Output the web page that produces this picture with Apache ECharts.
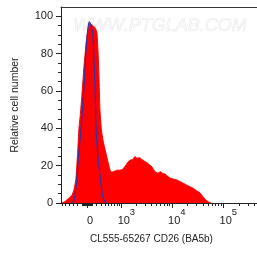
<!DOCTYPE html>
<html><head><meta charset="utf-8">
<script src="https://cdn.jsdelivr.net/npm/echarts@6/dist/echarts.min.js"></script>
<style>html,body{margin:0;padding:0;background:#fff}#c{width:257px;height:253px}</style>
</head><body><div id="c"></div>
<script>
// Biexponential display: position = asinh(value / BIEX_W)
const BIEX_W = 450;
const X_MIN = -1.16, X_MAX = 7.6;

// Red histogram (CL555-65267 CD26) : positions on display scale, relative counts
const redPos = [-1.118,-0.983,-0.805,-0.671,-0.581,-0.492,-0.416,-0.358,-0.291,-0.224,-0.134,-0.045,0.022,0.134,0.268,0.380,0.447,0.492,0.536,0.581,0.648,0.715,0.849,0.939,1.006,1.073,1.162,1.252,1.341,1.475,1.609,1.743,1.833,1.945,2.056,2.146,2.235,2.347,2.459,2.548,2.682,2.816,2.906,2.995,3.062,3.174,3.286,3.375,3.487,3.599,3.710,3.867,4.023,4.157,4.291,4.448,4.604,4.761,4.917,5.051,5.186,5.297,5.409,5.543];
const redVal = [0,0.8,2.7,4.3,7,13,27,40,48,58,73,84.5,91,96.3,95,93.5,91,82,68,50,39,33.7,26.7,22,18.7,16.6,16.6,17.1,17.6,17.6,18.2,20.3,22,23,23.5,24.9,24,24.3,23.3,22.5,21.6,20.3,19.3,17.6,16.6,16,16.8,16,15.5,14.4,13.4,12.8,12.3,11.5,10.7,9.6,8.7,7.8,6.4,5.5,3.4,1.9,0.7,0];

// Blue isotype control line
const bluePos = [-0.671,-0.581,-0.514,-0.447,-0.380,-0.291,-0.201,-0.112,-0.045,0.022,0.103,0.179,0.255,0.326,0.371,0.402,0.456,0.514,0.581,0.648,0.715,0.805,0.894];
const blueVal = [0,1.5,6,14,25,36,50,66,82,91,97,95,91,73,56,42,30,22,15,8,3,0.8,0];

// Axis ticks
const xMajorTicks = [0, 1000, 10000, 100000];
const xMajorLabels = ['0', '10^3', '10^4', '10^5'];
const xMinorTicks = [-600,-500,-400,-300,-200,-100,-90,-80,-70,-60,-50,-40,-30,-20,-10,
  10,20,30,40,50,60,70,80,90,100,200,300,400,500,600,700,800,900,
  2000,3000,4000,5000,6000,7000,8000,9000,
  20000,30000,40000,50000,60000,70000,80000,90000,
  200000,300000,400000];
const yMajorTicks = [0,20,40,60,80,100];
const yMinorTicks = [5,10,15,25,30,35,45,50,55,65,70,75,85,90,95];

const xTitle = 'CL555-65267 CD26 (BA5b)';
const yTitle = 'Relative cell number';
const watermark = 'WWW.PTGLAB.COM';

const biex = v => Math.asinh(v / BIEX_W);
const AX = '#222';
const FONT = 'Liberation Sans';

const chart = echarts.init(document.getElementById('c'), null, {renderer: 'canvas'});
chart.setOption({
  animation: false,
  backgroundColor: '#fff',
  textStyle: {fontFamily: FONT},
  grid: {left: 61, right: 0, top: 7, bottom: 50, containLabel: false},
  graphic: [{
    type: 'text', left: 73, top: 17, z: 0, silent: true,
    style: {text: watermark, font: 'italic 18px "Liberation Sans"', fill: 'rgba(255,255,255,0)', stroke: '#ebebeb', lineWidth: 0.7}
  }],
  xAxis: [
    {
      type: 'value', min: X_MIN, max: X_MAX, position: 'bottom', offset: 0,
      axisLine: {show: true, onZero: false, lineStyle: {color: AX, width: 1}},
      axisTick: {show: true, length: 5, inside: false, customValues: xMajorTicks.map(biex), lineStyle: {color: AX}},
      axisLabel: {
        show: true, margin: 4, color: AX, customValues: xMajorTicks.map(biex),
        formatter: function (val) {
          let i = xMajorTicks.findIndex(v => Math.abs(biex(v) - val) < 1e-6);
          if (i < 0) return '';
          const s = xMajorLabels[i];
          if (s.indexOf('^') < 0) return '{z|' + s + '}';
          const p = s.split('^');
          return '{b|' + p[0] + '}{s|' + p[1] + '}';
        },
        rich: {
          z: {fontSize: 11, lineHeight: 19, verticalAlign: 'bottom', padding: [0, 0, 0, 6], color: AX, fontFamily: FONT},
          b: {fontSize: 11, lineHeight: 19, verticalAlign: 'bottom', padding: [0, 0, 0, 10], color: AX, fontFamily: FONT},
          s: {fontSize: 9.5, lineHeight: 9, verticalAlign: 'top', color: AX, fontFamily: FONT}
        }
      },
      splitLine: {show: false},
      name: xTitle, nameLocation: 'middle', nameGap: 31,
      nameTextStyle: {fontSize: 10, color: AX, fontFamily: FONT, padding: [0, 15, 0, 0]}
    },
    {
      type: 'value', min: X_MIN, max: X_MAX, position: 'bottom', offset: 0,
      axisLine: {show: false, onZero: false},
      axisTick: {show: true, length: 3, inside: false, customValues: xMinorTicks.map(biex), lineStyle: {color: AX}},
      axisLabel: {show: false},
      splitLine: {show: false}
    },
    {
      type: 'value', min: X_MIN, max: X_MAX, position: 'top', offset: 0,
      axisLine: {show: true, onZero: false, lineStyle: {color: '#333', width: 1}},
      axisTick: {show: false}, axisLabel: {show: false}, splitLine: {show: false}
    }
  ],
  yAxis: [
    {
      type: 'value', min: 0, max: 105, position: 'left', offset: 0,
      axisLine: {show: true, onZero: false, lineStyle: {color: AX, width: 1}},
      axisTick: {show: true, length: 5, inside: false, customValues: yMajorTicks, lineStyle: {color: AX}},
      axisLabel: {show: true, margin: 8, fontSize: 11, color: AX, customValues: yMajorTicks, fontFamily: FONT},
      splitLine: {show: false},
      name: yTitle, nameLocation: 'middle', nameGap: 40,
      nameTextStyle: {fontSize: 10.5, color: AX, fontFamily: FONT}
    },
    {
      type: 'value', min: 0, max: 105, position: 'left', offset: 0,
      axisLine: {show: false, onZero: false},
      axisTick: {show: true, length: 3, inside: false, customValues: yMinorTicks, lineStyle: {color: AX}},
      axisLabel: {show: false}, splitLine: {show: false}
    }
  ],
  series: [
    {
      type: 'line', xAxisIndex: 0, yAxisIndex: 0, z: 2,
      data: redPos.map((p, i) => [p, redVal[i]]),
      showSymbol: false, smooth: 0.15,
      lineStyle: {color: '#ff0000', width: 1},
      areaStyle: {color: '#ff0000', opacity: 1}
    },
    {
      type: 'line', xAxisIndex: 0, yAxisIndex: 0, z: 3,
      data: bluePos.map((p, i) => [p, blueVal[i]]),
      showSymbol: false, smooth: 0.3,
      lineStyle: {color: '#3b2fa0', width: 1.3}
    }
  ]
});
</script></body></html>
